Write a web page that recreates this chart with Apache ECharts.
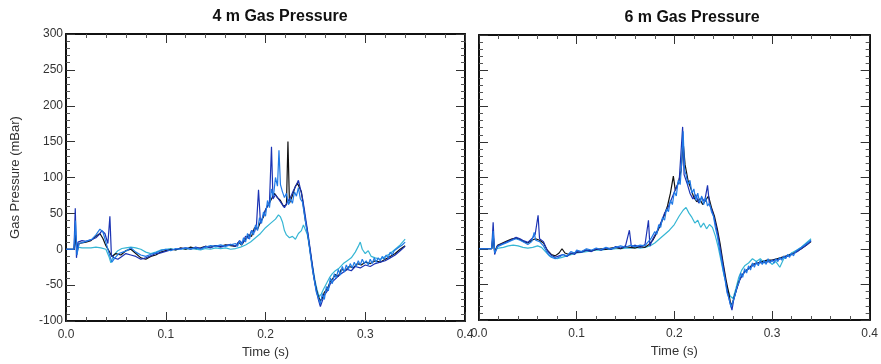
<!DOCTYPE html>
<html>
<head>
<meta charset="UTF-8">
<title>Gas Pressure</title>
<script src="https://cdn.jsdelivr.net/npm/echarts@6/dist/echarts.min.js"></script>
<style>
  html, body { margin: 0; padding: 0; background: #fff; }
  #main { width: 881px; height: 364px; }
</style>
</head>
<body>
<div id="main"></div>
<script>
// titles and axis settings
var titles = ['4 m Gas Pressure', '6 m Gas Pressure'];
var seriesNames = ['black', 'navy', 'blue', 'cyan'];
var colors = ['#111111', '#1b33b4', '#1f7ae6', '#36b6d4'];
var xTicks = [0, 0.1, 0.2, 0.3, 0.4];
var yTicks = [-100, -50, 0, 50, 100, 150, 200, 250, 300];

// 4 m traces: [time (s), pressure (mBar)]
var left_black = [[0,0],[0.008,0],[0.0095,20],[0.011,-5],[0.013,8],[0.02,10],[0.025,12],[0.03,18],[0.034,22],[0.037,15],[0.04,5],[0.043,-2],[0.046,-10],[0.05,-6],[0.055,-8],[0.06,-2],[0.065,0],[0.07,-6],[0.075,-12],[0.08,-14],[0.085,-10],[0.09,-8],[0.095,-4],[0.1,-2],[0.105,0],[0.11,-1],[0.115,2],[0.12,0],[0.125,3],[0.13,1],[0.135,2],[0.14,4],[0.145,3],[0.15,5],[0.155,4],[0.16,6],[0.165,5],[0.17,4],[0.173,10],[0.176,6],[0.18,14],[0.183,20],[0.186,18],[0.189,30],[0.192,28],[0.195,38],[0.198,45],[0.2,55],[0.203,62],[0.206,70],[0.209,78],[0.212,72],[0.215,68],[0.218,60],[0.221,62],[0.2225,150],[0.224,64],[0.227,75],[0.23,88],[0.232,92],[0.234,86],[0.236,80],[0.238,60],[0.24,40],[0.242,25],[0.244,5],[0.246,-15],[0.248,-35],[0.25,-50],[0.252,-62],[0.255,-72],[0.257,-68],[0.259,-60],[0.262,-55],[0.265,-45],[0.268,-40],[0.27,-35],[0.273,-38],[0.276,-28],[0.28,-30],[0.284,-24],[0.288,-26],[0.292,-20],[0.296,-22],[0.3,-18],[0.305,-20],[0.31,-16],[0.315,-18],[0.32,-14],[0.325,-10],[0.33,-6],[0.335,0],[0.34,5]];
var left_navy = [[0,0],[0.008,0],[0.0093,57],[0.0105,-12],[0.012,10],[0.016,12],[0.02,11],[0.025,13],[0.03,16],[0.033,20],[0.036,26],[0.039,22],[0.042,8],[0.044,46],[0.0455,-8],[0.048,-12],[0.052,-14],[0.056,-10],[0.06,-6],[0.065,-8],[0.07,-10],[0.075,-14],[0.08,-12],[0.085,-9],[0.09,-6],[0.095,-5],[0.1,-3],[0.105,-1],[0.11,0],[0.115,1],[0.12,2],[0.125,0],[0.13,3],[0.135,1],[0.14,4],[0.145,2],[0.15,5],[0.155,3],[0.16,5],[0.165,7],[0.17,4],[0.174,12],[0.177,8],[0.18,18],[0.183,15],[0.186,26],[0.189,24],[0.191,35],[0.193,83],[0.195,36],[0.198,48],[0.201,58],[0.204,66],[0.206,143],[0.2075,70],[0.21,76],[0.213,70],[0.216,64],[0.219,58],[0.222,66],[0.225,72],[0.228,82],[0.231,90],[0.233,96],[0.235,84],[0.237,72],[0.239,55],[0.241,36],[0.243,18],[0.245,-2],[0.247,-22],[0.249,-42],[0.251,-58],[0.253,-70],[0.255,-80],[0.257,-72],[0.259,-64],[0.262,-58],[0.265,-48],[0.268,-44],[0.271,-40],[0.274,-36],[0.278,-32],[0.282,-28],[0.286,-30],[0.29,-24],[0.295,-26],[0.3,-22],[0.305,-24],[0.31,-20],[0.315,-18],[0.32,-16],[0.325,-12],[0.33,-8],[0.335,-2],[0.34,4]];
var left_blue = [[0,0],[0.008,0],[0.0095,40],[0.011,-8],[0.013,8],[0.018,10],[0.022,12],[0.026,14],[0.03,20],[0.034,28],[0.037,24],[0.04,10],[0.043,-5],[0.046,-18],[0.049,-12],[0.053,-6],[0.057,-4],[0.061,-2],[0.065,2],[0.07,-4],[0.075,-8],[0.08,-10],[0.085,-7],[0.09,-5],[0.095,-2],[0.1,0],[0.105,-2],[0.11,1],[0.115,0],[0.12,2],[0.125,1],[0.13,2],[0.135,0],[0.14,3],[0.145,5],[0.15,4],[0.155,6],[0.16,4],[0.165,6],
  [0.17,8],[0.172,4],[0.174,12],[0.176,6],[0.178,16],[0.18,10],[0.182,22],[0.184,14],[0.186,26],[0.188,20],[0.19,34],[0.192,26],[0.194,44],[0.196,36],[0.198,52],[0.2,46],[0.202,68],[0.204,58],[0.206,84],[0.208,74],[0.21,100],[0.212,88],[0.2135,138],[0.215,90],[0.217,80],[0.219,72],[0.221,78],[0.223,62],[0.225,70],[0.227,64],[0.229,80],[0.231,74],[0.233,86],[0.235,70],[0.237,66],[0.239,48],[0.241,30],[0.243,14],[0.245,-8],[0.247,-28],[0.249,-44],[0.251,-60],[0.253,-58],[0.255,-76],[0.257,-62],[0.259,-70],[0.261,-52],[0.263,-58],[0.265,-40],[0.267,-48],[0.269,-34],[0.271,-40],[0.273,-28],[0.275,-36],[0.277,-24],[0.279,-32],[0.281,-22],[0.283,-28],[0.285,-20],[0.287,-26],[0.289,-18],[0.291,-24],[0.293,-16],[0.295,-22],[0.297,-14],[0.299,-20],[0.301,-16],[0.303,-22],[0.305,-14],[0.307,-20],[0.309,-12],[0.311,-18],[0.313,-12],[0.315,-16],[0.317,-10],[0.319,-14],[0.321,-8],[0.323,-12],[0.325,-4],[0.327,-8],[0.329,-2],[0.331,-4],[0.333,2],[0.335,0],[0.337,6],[0.339,4],[0.34,10]];
var left_cyan = [[0,0],[0.008,0],[0.01,12],[0.012,3],[0.016,2],[0.02,2],[0.025,2],[0.03,3],[0.035,2],[0.04,0],[0.043,-10],[0.045,-19],[0.048,-8],[0.052,-2],[0.056,1],[0.06,2],[0.065,3],[0.07,2],[0.075,0],[0.08,-4],[0.085,-6],[0.09,-4],[0.095,-1],[0.1,0],[0.105,1],[0.11,-1],[0.115,1],[0.12,0],[0.125,1],[0.13,0],[0.135,-1],[0.14,1],[0.145,0],[0.15,2],[0.155,1],[0.16,2],[0.165,0],[0.17,1],[0.175,3],[0.18,6],[0.185,10],[0.19,16],[0.195,22],[0.2,30],[0.205,36],[0.21,42],[0.213,48],[0.215,45],[0.217,38],[0.219,26],[0.221,20],[0.224,16],[0.227,18],[0.23,14],[0.233,22],[0.236,26],[0.238,34],[0.24,32],[0.242,20],[0.244,4],[0.246,-14],[0.248,-30],[0.25,-46],[0.252,-58],[0.254,-66],[0.256,-62],[0.258,-56],[0.261,-48],[0.264,-40],[0.267,-34],[0.27,-30],[0.274,-26],[0.278,-20],[0.282,-16],[0.286,-12],[0.29,-4],[0.293,4],[0.295,10],[0.297,0],[0.3,-6],[0.303,-2],[0.306,-10],[0.31,-12],[0.315,-14],[0.32,-10],[0.325,-6],[0.33,0],[0.335,6],[0.34,14]];

// 6 m traces
var right_black = [[0,0],[0.013,0],[0.0145,20],[0.016,-4],[0.019,5],[0.024,8],[0.029,11],[0.034,14],[0.038,15],[0.042,13],[0.046,10],[0.05,8],[0.054,12],[0.058,14],[0.062,12],[0.066,8],[0.07,-2],[0.074,-8],[0.078,-10],[0.082,-6],[0.085,0],[0.088,-6],[0.092,-8],[0.096,-6],[0.1,-5],[0.105,-4],[0.11,-2],[0.115,-3],[0.12,-1],[0.125,0],[0.13,-1],[0.135,1],[0.14,2],[0.145,0],[0.15,3],[0.155,2],[0.16,1],[0.165,3],[0.17,2],[0.174,6],[0.178,12],[0.182,22],[0.186,34],[0.19,48],[0.193,60],[0.196,78],[0.199,102],[0.201,82],[0.204,92],[0.207,110],[0.209,150],[0.211,118],[0.214,96],[0.217,84],[0.22,72],[0.223,66],[0.226,70],[0.229,62],[0.232,68],[0.235,74],[0.238,58],[0.241,46],[0.244,28],[0.247,6],[0.25,-20],[0.253,-44],[0.256,-64],[0.258,-80],[0.26,-74],[0.263,-60],[0.266,-46],[0.269,-38],[0.272,-32],[0.276,-28],[0.28,-22],[0.285,-20],[0.29,-18],[0.295,-16],[0.3,-16],[0.305,-14],[0.31,-12],[0.315,-10],[0.32,-8],[0.325,-4],[0.33,0],[0.335,5],[0.34,10]];
var right_navy = [[0,0],[0.013,0],[0.0145,37],[0.016,-8],[0.019,4],[0.024,7],[0.029,10],[0.034,13],[0.038,16],[0.042,14],[0.046,11],[0.05,9],[0.054,14],[0.0575,20],[0.0605,47],[0.062,14],[0.066,10],[0.07,-3],[0.074,-9],[0.078,-12],[0.082,-10],[0.086,-8],[0.09,-11],[0.094,-6],[0.098,-8],[0.1,-4],[0.105,-5],[0.11,-2],[0.115,-4],[0.12,0],[0.125,-2],[0.13,1],[0.135,-1],[0.14,3],[0.145,1],[0.15,4],[0.154,26],[0.156,3],[0.16,5],[0.165,2],[0.17,6],[0.1735,40],[0.175,4],[0.178,14],[0.182,24],[0.186,36],[0.19,50],[0.193,56],[0.196,66],[0.199,76],[0.202,86],[0.205,96],[0.2085,171],[0.21,104],[0.213,92],[0.216,78],[0.219,70],[0.222,76],[0.225,64],[0.228,72],[0.231,66],[0.234,89],[0.236,62],[0.239,52],[0.242,36],[0.245,16],[0.248,-8],[0.251,-32],[0.254,-58],[0.257,-76],[0.259,-86],[0.261,-70],[0.264,-56],[0.267,-44],[0.27,-36],[0.274,-30],[0.278,-26],[0.282,-22],[0.287,-20],[0.292,-19],[0.297,-18],[0.302,-16],[0.307,-15],[0.312,-12],[0.317,-10],[0.322,-7],[0.327,-3],[0.332,2],[0.336,6],[0.34,11]];
var right_blue = [[0,0],[0.013,0],[0.0145,25],[0.016,-6],[0.019,3],[0.024,6],[0.029,9],[0.034,12],[0.038,14],[0.042,12],[0.046,9],[0.05,6],[0.054,10],[0.0565,23],[0.058,12],[0.062,10],[0.066,4],[0.07,-6],[0.074,-12],[0.078,-14],[0.082,-12],[0.086,-8],[0.09,-10],[0.094,-4],[0.098,-6],[0.1,-2],[0.105,-4],[0.11,0],[0.115,-2],[0.12,1],[0.125,-1],[0.13,2],[0.135,0],[0.14,2],[0.145,4],[0.15,2],[0.155,5],[0.16,3],[0.165,5],
  [0.17,4],[0.172,8],[0.174,6],[0.176,14],[0.178,12],[0.18,24],[0.182,20],[0.184,34],[0.186,30],[0.188,44],[0.19,40],[0.192,56],[0.194,52],[0.196,68],[0.198,62],[0.2,80],[0.202,74],[0.204,96],[0.206,90],[0.2075,120],[0.209,165],[0.2105,110],[0.212,104],[0.214,90],[0.216,96],[0.218,78],[0.22,84],[0.222,68],[0.224,78],[0.226,64],[0.228,74],[0.23,62],[0.232,72],[0.234,60],[0.236,64],[0.238,52],[0.24,46],[0.242,30],[0.244,18],[0.246,2],[0.248,-14],[0.25,-30],[0.252,-44],[0.254,-62],[0.256,-70],[0.258,-82],[0.26,-74],[0.262,-66],[0.264,-54],[0.266,-48],[0.268,-34],[0.27,-40],[0.272,-28],[0.274,-34],[0.276,-24],[0.278,-30],[0.28,-20],[0.282,-26],[0.284,-18],[0.286,-24],[0.288,-16],[0.29,-22],[0.292,-16],[0.294,-22],[0.296,-14],[0.298,-20],[0.3,-16],[0.302,-20],[0.304,-14],[0.306,-18],[0.308,-12],[0.31,-16],[0.312,-10],[0.314,-14],[0.316,-8],[0.318,-12],[0.32,-6],[0.322,-10],[0.324,-4],[0.326,-6],[0.328,0],[0.33,-2],[0.332,4],[0.334,2],[0.336,8],[0.338,6],[0.34,12]];
var right_cyan = [[0,0],[0.013,0],[0.0145,10],[0.016,-2],[0.02,1],[0.025,2],[0.03,4],[0.035,5],[0.04,4],[0.045,2],[0.05,1],[0.055,2],[0.06,4],[0.064,2],[0.068,-4],[0.072,-10],[0.076,-12],[0.08,-14],[0.085,-12],[0.09,-10],[0.095,-8],[0.1,-6],[0.105,-5],[0.11,-4],[0.115,-3],[0.12,-2],[0.125,-2],[0.13,-1],[0.135,-1],[0.14,0],[0.145,0],[0.15,1],[0.155,1],[0.16,2],[0.165,1],[0.17,2],[0.175,4],[0.18,8],[0.185,14],[0.19,20],[0.195,26],[0.2,34],[0.205,46],[0.209,54],[0.212,58],[0.215,50],[0.218,44],[0.221,36],[0.224,40],[0.227,30],[0.23,36],[0.233,28],[0.236,34],[0.239,30],[0.242,18],[0.245,2],[0.248,-18],[0.251,-38],[0.254,-54],[0.257,-66],[0.26,-70],[0.263,-56],[0.266,-40],[0.269,-30],[0.272,-24],[0.276,-20],[0.28,-14],[0.284,-18],[0.288,-14],[0.292,-20],[0.296,-16],[0.3,-22],[0.304,-18],[0.308,-26],[0.312,-14],[0.316,-10],[0.32,-6],[0.325,-2],[0.33,2],[0.335,8],[0.34,14]];

var leftData = [left_black, left_navy, left_blue, left_cyan];
var rightData = [right_black, right_navy, right_blue, right_cyan];

var chart = echarts.init(document.getElementById('main'));
var font = 'Liberation Sans, Arial, sans-serif';

function xAx(grid, pos, withLabel) {
    return {
        type: 'value', gridIndex: grid, position: pos,
        min: xTicks[0], max: xTicks[xTicks.length - 1], interval: 0.1,
        name: withLabel ? 'Time (s)' : '', nameLocation: 'middle', nameGap: 23,
        nameTextStyle: { fontFamily: font, fontSize: 13, color: '#333' },
        axisLine: { show: true, onZero: false, lineStyle: { color: '#111', width: 2 } },
        axisTick: { show: true, inside: true, length: 9, lineStyle: { color: '#333', width: 1 } },
        minorTick: { show: true, splitNumber: 5, length: 4, lineStyle: { color: '#555', width: 1 } },
        axisLabel: { show: withLabel, margin: 8, fontFamily: font, fontSize: 12, color: '#333',
            showMinLabel: true, showMaxLabel: true,
            formatter: function (v) { return v.toFixed(1); } },
        splitLine: { show: false }
    };
}
function yAx(grid, pos, withLabel, withName) {
    return {
        type: 'value', gridIndex: grid, position: pos,
        min: yTicks[0], max: yTicks[yTicks.length - 1], interval: 50,
        name: withName ? 'Gas Pressure (mBar)' : '', nameLocation: 'middle', nameGap: 44,
        nameTextStyle: { fontFamily: font, fontSize: 13, color: '#333' },
        axisLine: { show: true, onZero: false, lineStyle: { color: '#111', width: 2 } },
        axisTick: { show: true, inside: true, length: 9, lineStyle: { color: '#333', width: 1 } },
        minorTick: { show: true, splitNumber: 5, length: 4, lineStyle: { color: '#555', width: 1 } },
        axisLabel: { show: withLabel, margin: 3, fontFamily: font, fontSize: 12, color: '#333' },
        splitLine: { show: false }
    };
}

var series = [];
[leftData, rightData].forEach(function (set, g) {
    // draw cyan first so the darker traces sit on top
    [3, 0, 1, 2].forEach(function (k) {
        series.push({
            name: seriesNames[k], type: 'line',
            xAxisIndex: g * 2, yAxisIndex: g * 2,
            data: set[k], showSymbol: false, symbol: 'none',
            lineStyle: { color: colors[k], width: 1.2 },
            itemStyle: { color: colors[k] },
            silent: true
        });
    });
});

var option = {
    animation: false,
    backgroundColor: '#fff',
    title: [
        { text: titles[0], left: 275, top: 4, textAlign: 'center',
          textStyle: { fontFamily: font, fontSize: 16, fontWeight: 'bold', color: '#111' } },
        { text: titles[1], left: 687, top: 5, textAlign: 'center',
          textStyle: { fontFamily: font, fontSize: 16, fontWeight: 'bold', color: '#111' } }
    ],
    grid: [
        { left: 66, top: 34, width: 399, height: 287 },
        { left: 479, top: 35, width: 394, height: 285 }
    ],
    xAxis: [xAx(0, 'bottom', true), xAx(0, 'top', false), xAx(1, 'bottom', true), xAx(1, 'top', false)],
    yAxis: [yAx(0, 'left', true, true), yAx(0, 'right', false, false), yAx(1, 'left', false, false), yAx(1, 'right', false, false)],
    series: series
};
chart.setOption(option);
</script>
</body>
</html>
